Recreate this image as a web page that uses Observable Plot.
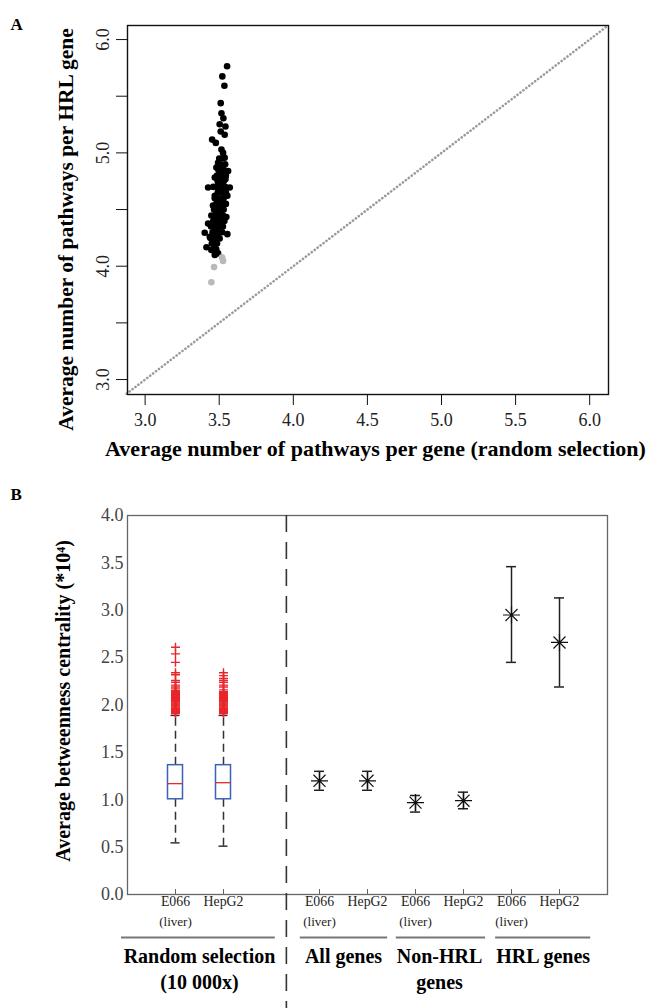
<!DOCTYPE html>
<html><head><meta charset="utf-8">
<script src="https://cdn.jsdelivr.net/npm/d3@7"></script>
<script src="https://cdn.jsdelivr.net/npm/@observablehq/plot@0.6"></script>
<style>
body{margin:0;background:#fff;}
#wrap{width:646px;height:1008px;overflow:hidden;background:#fff;}
#wrap svg{display:block;}
</style></head><body><div id="wrap"></div>
<script>
// ---------- Panel A data ----------
const hrlX = [3.553,3.521,3.535,3.510,3.515,3.528,3.503,3.542,3.510,3.537,3.452,3.477,3.515,3.526,3.537,3.492,3.526,3.560,3.481,3.503,3.470,3.542,3.425,3.571,3.497,3.526,3.470,3.555,3.503,3.537,3.458,3.519,3.481,3.447,3.548,3.425,3.503,3.402,3.470,3.555,3.436,3.503,3.414,3.458,3.492,3.447,3.470,
  3.500,3.520,3.505,3.540,3.495,3.515,3.530,3.485,3.520,3.545,3.490,3.505,3.530,3.480,3.510,3.540,3.460,3.490,3.500,3.515,3.545,3.485,3.520,3.530,3.470,3.480,3.495,3.510,3.545,3.465,3.490,3.500,3.530,3.475,3.495,3.510,3.525,3.460,3.480,3.490,3.515,3.535,3.445,3.475,3.490,3.510,3.525,3.455,3.470,3.485,3.500,3.520,3.440,3.460,3.480,3.495,3.450,3.470,3.485,3.460,3.480];
const hrlY = [5.765,5.675,5.593,5.439,5.349,5.305,5.253,5.233,5.189,5.160,5.117,5.088,5.030,5.000,4.957,4.913,4.884,4.840,4.870,4.797,4.782,4.768,4.695,4.695,4.724,4.666,4.622,4.622,4.579,4.550,4.535,4.506,4.463,4.448,4.434,4.376,4.390,4.295,4.332,4.283,4.259,4.245,4.167,4.201,4.114,4.143,4.100,
  4.95,4.95,4.90,4.90,4.85,4.85,4.85,4.80,4.80,4.80,4.75,4.75,4.75,4.70,4.70,4.70,4.70,4.65,4.65,4.65,4.65,4.60,4.60,4.60,4.60,4.55,4.55,4.55,4.55,4.50,4.50,4.50,4.50,4.45,4.45,4.45,4.45,4.40,4.40,4.40,4.40,4.40,4.35,4.35,4.35,4.35,4.35,4.30,4.30,4.30,4.30,4.30,4.25,4.25,4.25,4.25,4.20,4.20,4.20,4.15,4.15];
const lowX = [3.519,3.526,3.465,3.447];
const lowY = [4.079,4.047,3.992,3.859];
const diagonal = [2.875, 6.125];
const xTicksA = [3.0,3.5,4.0,4.5,5.0,5.5,6.0];
const yTicksA = [3.0,3.5,4.0,4.5,5.0,5.5,6.0];
const xTitleA = "Average number of pathways per gene (random selection)";
const yTitleA = "Average number of pathways per HRL gene";

// ---------- Panel B data ----------
const cellLines = ["E066", "HepG2"];
const cellSubLabels = ["(liver)", ""];
const randomGroup = "Random selection\n(10 000x)";
const summaryGroups = ["All genes", "Non-HRL\ngenes", "HRL genes"];
// boxplots of random selection [E066, HepG2]
const boxLow = [0.545, 0.51];
const boxQ1 = [1.005, 1.005];
const boxMedian = [1.17, 1.18];
const boxQ3 = [1.365, 1.365];
const boxHigh = [1.89, 1.89];
const e066Outliers = [2.61,2.54,2.45,2.34,2.32,2.26,2.24,2.21,2.19,2.17,2.15,2.14,2.13,2.12,2.11,2.10,2.09,2.08,2.07,2.06,2.05,2.04,2.03,2.02,2.01,2.00,1.99,1.98,1.97,1.96,1.95,1.94,1.93,1.92,1.91];
const hepg2Outliers = [2.34,2.31,2.28,2.26,2.24,2.21,2.19,2.16,2.14,2.13,2.12,2.11,2.10,2.09,2.08,2.07,2.06,2.05,2.04,2.03,2.02,2.01,2.00,1.99,1.98,1.97,1.96,1.95,1.94,1.93,1.92,1.91];
// mean and error bars [All E066, All HepG2, Non E066, Non HepG2, HRL E066, HRL HepG2]
const summaryMean = [1.20, 1.20, 0.97, 0.99, 2.95, 2.66];
const summaryLow  = [1.10, 1.10, 0.87, 0.905, 2.45, 2.19];
const summaryHigh = [1.30, 1.30, 1.045, 1.08, 3.46, 3.13];
const yTicksB = [0,0.5,1,1.5,2,2.5,3,3.5,4];
const yTitleB = "Average betweenness centrality (*10\u2074)";

// ---------- layout (positions / styles) ----------
const FONT = "'Liberation Serif','Times New Roman',serif";
const B_W = 646, B_H = 538, B_ML = 127, B_MR = 39, B_MT = 45, B_MB = 114;
const pxX = (B_W - B_ML - B_MR) / 10;   // px per x-unit
const sepPos = 3.31;
const boxHalf = 7.5 / pxX, capHalf = 4.5 / pxX, ebCapHalf = 5 / pxX;
const groupSpan = [[-1.125, 1.08], [-0.4, 0.42], [-0.4, 0.46], [-0.33, 0.65]];
const groupCenterShift = [0, 0, 0, 0.16];

// ---------- Panel A ----------
const ptsA = hrlX.map((x, i) => ({x, y: hrlY[i]}));
const ptsLow = lowX.map((x, i) => ({x, y: lowY[i]}));
const A = Plot.plot({
  width: 646, height: 470,
  marginLeft: 127, marginRight: 38, marginTop: 25, marginBottom: 76,
  x: {domain: [2.881, 6.127]},
  y: {domain: [2.868, 6.124]},
  style: {fontFamily: FONT, background: "white", color: "#111"},
  marks: [
    Plot.line(diagonal.map(v => ({v})), {x: "v", y: "v", stroke: "#9a9a9a", strokeWidth: 2.6, strokeDasharray: "0.1 3.6", strokeLinecap: "round"}),
    Plot.dot(ptsA, {x: "x", y: "y", r: 3.3, fill: "#000"}),
    Plot.dot(ptsLow, {x: "x", y: "y", r: 3.3, fill: "#b9b9b9"}),
    Plot.frame({stroke: "#111", strokeWidth: 1.4}),
    Plot.axisX({ticks: xTicksA, tickFormat: d3.format(".1f"), tickSize: 11, tickPadding: 8, fontSize: 18, label: null, fill: "#222"}),
    Plot.axisY({ticks: yTicksA, tickFormat: d => Number.isInteger(d) ? d.toFixed(1) : "", tickRotate: -90, tickSize: 11, tickPadding: 8, fontSize: 18, label: null, fill: "#222"}),
    Plot.text([yTitleA], {text: d => d, frameAnchor: "left", textAnchor: "middle", dx: -61.5, dy: 19.5, rotate: -90, fontSize: 21.5, fontWeight: "bold", fill: "#000"}),
    Plot.text([xTitleA], {text: d => d, frameAnchor: "bottom", textAnchor: "middle", dx: 7.5, dy: 61, fontSize: 22, fontWeight: "bold", fill: "#000"}),
    Plot.text(["A"], {text: d => d, frameAnchor: "top-left", textAnchor: "start", dx: -117, dy: -8, fontSize: 17, fontWeight: "bold", fill: "#000"})
  ]
});

// ---------- Panel B ----------
const randPos = cellLines.map((c, i) => i + 1);
const sumPos = summaryMean.map((m, i) => i + 4);
const boxes = cellLines.map((c, i) => ({pos: randPos[i], low: boxLow[i], q1: boxQ1[i], med: boxMedian[i], q3: boxQ3[i], high: boxHigh[i]}));
const outliers = [
  ...e066Outliers.map(v => ({pos: randPos[0], v})),
  ...hepg2Outliers.map(v => ({pos: randPos[1], v}))
];
const summary = summaryMean.map((m, i) => ({pos: sumPos[i], m, lo: summaryLow[i], hi: summaryHigh[i]}));
const ticksB = [
  ...cellLines.map((c, i) => ({pos: randPos[i], label: c, sub: cellSubLabels[i]})),
  ...summaryMean.map((m, i) => ({pos: sumPos[i], label: cellLines[i % 2], sub: cellSubLabels[i % 2]}))
];
const groupsAll = [randomGroup, ...summaryGroups];
const groupFirst = [randPos[0], sumPos[0], sumPos[2], sumPos[4]];
const groups = groupsAll.map((g, i) => ({
  label: g,
  x1: groupFirst[i] + groupSpan[i][0],
  x2: groupFirst[i] + 1 + groupSpan[i][1],
  cx: groupFirst[i] + 0.5 + groupCenterShift[i]
}));

const asterisk = {draw(ctx, size) {
  const r = Math.sqrt(size / Math.PI), d = r * 0.7071;
  ctx.moveTo(-r, 0); ctx.lineTo(r, 0);
  ctx.moveTo(0, -r); ctx.lineTo(0, r);
  ctx.moveTo(-d, -d); ctx.lineTo(d, d);
  ctx.moveTo(-d, d); ctx.lineTo(d, -d);
}};
const plusSym = {draw(ctx, size) {
  const r = Math.sqrt(size / Math.PI);
  ctx.moveTo(-r, 0); ctx.lineTo(r, 0);
  ctx.moveTo(0, -r); ctx.lineTo(0, r);
}};

const RED = "#e8262b", BLUE = "#3a62b8";
const B = Plot.plot({
  width: B_W, height: B_H,
  marginLeft: B_ML, marginRight: B_MR, marginTop: B_MT, marginBottom: B_MB,
  x: {domain: [0, 10], axis: null},
  y: {domain: [0, 4], axis: null},
  style: {fontFamily: FONT, background: "white", color: "#333"},
  marks: [
    Plot.frame({stroke: "#666", strokeWidth: 1.3}),
    // separator
    Plot.ruleX([sepPos], {x: d => d, y1: 4, y2: -1.3, stroke: "#333", strokeWidth: 1.6, strokeDasharray: "17 10"}),
    // inner ticks
    Plot.ruleX(ticksB, {x: "pos", insetTop: (B_H - B_MT - B_MB) - 5, stroke: "#666", strokeWidth: 1}),
    // whiskers
    Plot.ruleX(boxes, {x: "pos", y1: "q3", y2: "high", stroke: "#333", strokeWidth: 1.5, strokeDasharray: "8 5"}),
    Plot.ruleX(boxes, {x: "pos", y1: "q1", y2: "low", stroke: "#333", strokeWidth: 1.5, strokeDasharray: "8 5"}),
    Plot.ruleY(boxes, {y: "low", x1: d => d.pos - capHalf, x2: d => d.pos + capHalf, stroke: "#333", strokeWidth: 1.5}),
    Plot.ruleY(boxes, {y: "high", x1: d => d.pos - capHalf, x2: d => d.pos + capHalf, stroke: "#333", strokeWidth: 1.5}),
    Plot.rect(boxes, {x1: d => d.pos - boxHalf, x2: d => d.pos + boxHalf, y1: "q1", y2: "q3", fill: "white", stroke: BLUE, strokeWidth: 1.5}),
    Plot.ruleY(boxes, {y: "med", x1: d => d.pos - boxHalf, x2: d => d.pos + boxHalf, stroke: RED, strokeWidth: 1.3}),
    Plot.dot(outliers, {x: "pos", y: "v", symbol: plusSym, r: 4.5, fill: "none", stroke: RED, strokeWidth: 1.4}),
    // error bars + asterisks
    Plot.ruleX(summary, {x: "pos", y1: "lo", y2: "hi", stroke: "#222", strokeWidth: 1.5}),
    Plot.ruleY(summary, {y: "lo", x1: d => d.pos - ebCapHalf, x2: d => d.pos + ebCapHalf, stroke: "#222", strokeWidth: 1.5}),
    Plot.ruleY(summary, {y: "hi", x1: d => d.pos - ebCapHalf, x2: d => d.pos + ebCapHalf, stroke: "#222", strokeWidth: 1.5}),
    Plot.dot(summary, {x: "pos", y: "m", symbol: asterisk, r: 8.5, fill: "none", stroke: "#111", strokeWidth: 1.2}),
    Plot.dot(summary, {x: "pos", y: "m", r: 1.6, fill: "#111"}),
    // y axis
    Plot.axisY({ticks: yTicksB, tickFormat: d3.format(".1f"), tickSize: 0, tickPadding: 4, fontSize: 18, fill: "#444", label: null}),
    Plot.text([yTitleB], {text: d => d, frameAnchor: "left", textAnchor: "middle", dx: -64, dy: -4, rotate: -90, fontSize: 20, fontWeight: "bold", fill: "#000"}),
    // x tick labels
    Plot.text(ticksB, {x: "pos", text: "label", frameAnchor: "bottom", dy: 11, fontSize: 13.8, fill: "#222"}),
    Plot.text(ticksB, {x: "pos", text: "sub", frameAnchor: "bottom", dy: 31, fontSize: 13, letterSpacing: -0.6, fill: "#222"}),
    // group lines + labels
    Plot.ruleY(groups, {y: () => 0, x1: "x1", x2: "x2", dy: 43, stroke: "#777", strokeWidth: 2}),
    Plot.text(groups, {x: "cx", text: "label", frameAnchor: "bottom", lineAnchor: "top", dy: 50, fontSize: 20, fontWeight: "bold", lineHeight: 1.3, fill: "#000"}),
    Plot.text(["B"], {text: d => d, frameAnchor: "top-left", textAnchor: "start", dx: -117, dy: -28, fontSize: 17, fontWeight: "bold", fill: "#000"})
  ]
});

const wrap = document.getElementById("wrap");
wrap.appendChild(A);
wrap.appendChild(B);
</script>
</body></html>
